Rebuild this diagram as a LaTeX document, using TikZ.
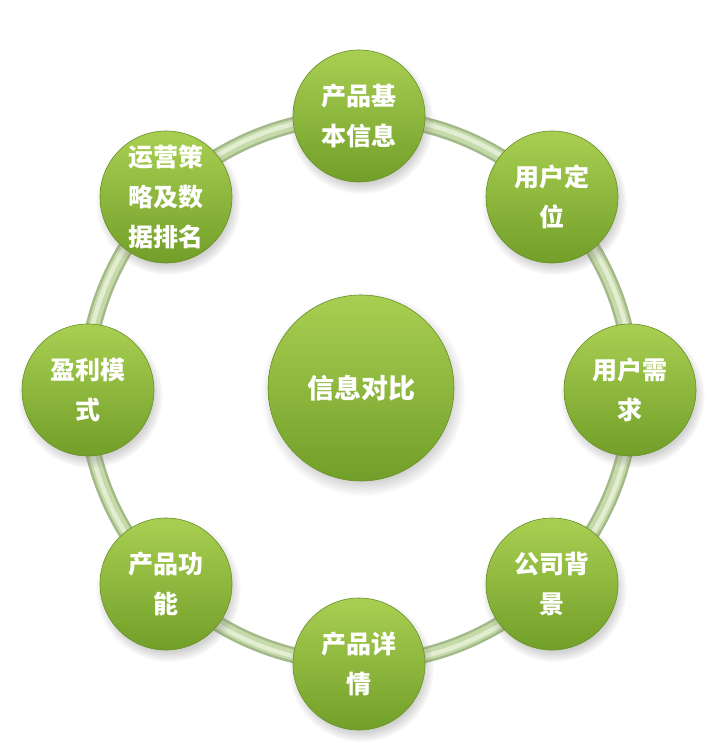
\documentclass[tikz,border=0pt]{standalone}
\usepackage{fontspec}
\newfontfamily\cjk{Noto Sans CJK SC}
\usetikzlibrary{shadows}
\definecolor{ringout}{HTML}{A3B989}
\definecolor{ringmid}{HTML}{C6DAA9}
\definecolor{ringhi}{HTML}{E2EDD2}
\definecolor{gtop}{HTML}{A9CF52}
\definecolor{gbot}{HTML}{729F29}
\tikzset{
  bubble/.style={circle, inner sep=0pt, minimum size=132pt,
    top color=gtop, bottom color=gbot, draw=gbot!90!black, line width=0.6pt,
    circular drop shadow={shadow xshift=2pt, shadow yshift=-5pt, opacity=0.35},
    text=white, align=center,
    font=\cjk\bfseries\fontsize{25}{40}\selectfont},
  hub/.style={bubble, minimum size=186pt, font=\cjk\bfseries\fontsize{27}{40}\selectfont},
}
\begin{document}
\begin{tikzpicture}[x=1pt,y=-1pt]
\useasboundingbox[fill=white] (0,0) rectangle (718,743);
\coordinate (rc) at (359,390);
\draw[line width=16pt, ringout] (rc) circle[radius=273pt];
\draw[line width=11pt, ringmid] (rc) circle[radius=273pt];
\draw[line width=4.5pt, ringhi] (rc) circle[radius=274pt];
\node[hub] (hub) at (361,388) {信息对比};
\node[bubble] (n1) at (359,116) {产品基\\本信息};
\node[bubble] (n2) at (552,197) {用户定\\位};
\node[bubble] (n3) at (630,390) {用户需\\求};
\node[bubble] (n4) at (552,584) {公司背\\景};
\node[bubble] (n5) at (359,664) {产品详\\情};
\node[bubble] (n6) at (166,584) {产品功\\能};
\node[bubble] (n7) at (88,390) {盈利模\\式};
\node[bubble] (n8) at (166,197) {运营策\\略及数\\据排名};
\end{tikzpicture}
\end{document}
